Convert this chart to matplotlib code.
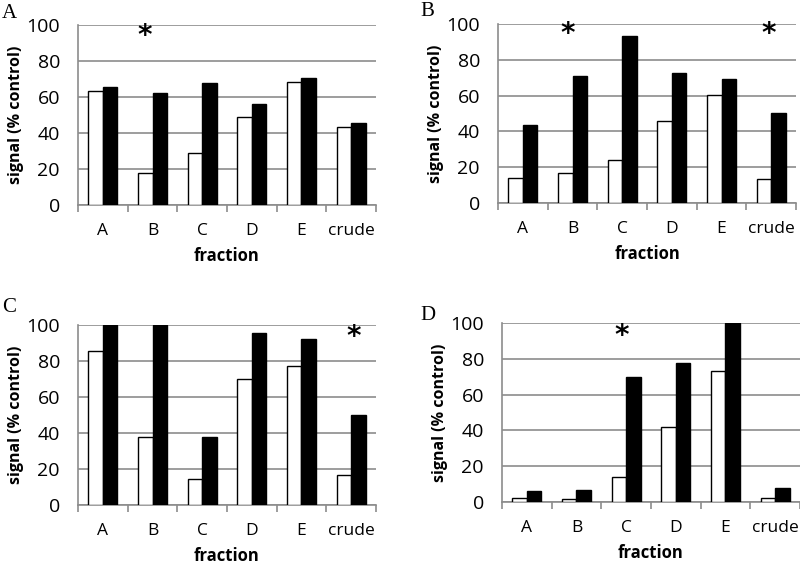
import matplotlib.pyplot as plt
import numpy as np

# data
fractions = ["A", "B", "C", "D", "E", "crude"]

white_A = [63.5, 18, 29, 49, 68.5, 43.5]
black_A = [65.5, 62, 68, 56, 70.8, 45.3]

white_B = [14, 17, 23.8, 45.6, 60.5, 13.4]
black_B = [43.4, 71, 93.4, 72.5, 69.4, 50.4]

white_C = [85.7, 38, 14.3, 70, 77, 16.5]
black_C = [100, 100, 38, 95.6, 92.4, 50]

white_D = [2.5, 1.4, 14, 42, 73, 2.2]
black_D = [5.9, 6.7, 69.6, 77.5, 100, 7.9]

# asterisks: (fraction index, height)
stars_A = [(0.85, 94)]
stars_B = [(0.9, 94.5), (4.95, 94.5)]
stars_C = [(5.05, 93.5)]
stars_D = [(1.9, 92.5)]

panels = [
    ("A", white_A, black_A, stars_A, [78, 205, 298, 180], (2, 14)),
    ("B", white_B, black_B, stars_B, [498, 203, 298, 179], (420, 12)),
    ("C", white_C, black_C, stars_C, [78, 505, 298, 180], (2, 307)),
    ("D", white_D, black_D, stars_D, [502, 502, 298, 179], (420, 316)),
]

W, H = 800, 566
fig = plt.figure(figsize=(8, 5.66), dpi=100)
plt.rcParams['font.family'] = ['Open Sans', 'DejaVu Sans']

grey = "#8c8c8c"
x = np.arange(len(fractions))
bw = 0.29

for name, wv, bv, stars, (l, b, w, h), (lx, ly) in panels:
    ax = fig.add_axes([l / W, 1 - b / H, w / W, h / H])
    ax.bar(x - bw / 2, wv, bw, color="white", edgecolor="black", linewidth=1, zorder=3)
    ax.bar(x + bw / 2, bv, bw, color="black", edgecolor="black", linewidth=1, zorder=3)
    ax.set_ylim(0, 100)
    ax.set_xlim(-0.5, len(fractions) - 0.5)
    ax.set_yticks([0, 20, 40, 60, 80, 100])
    ax.yaxis.grid(True, color=grey, linewidth=1.2, zorder=0)
    ax.set_axisbelow(True)
    for s in ["top", "right"]:
        ax.spines[s].set_visible(False)
    ax.spines["left"].set_color(grey)
    ax.spines["bottom"].set_color(grey)
    ax.spines["left"].set_linewidth(1.2)
    ax.spines["bottom"].set_linewidth(1.2)
    ax.tick_params(axis="y", length=0, pad=13, labelsize=14)
    ax.set_xticks(x)
    ax.set_xticklabels(fractions)
    ax.tick_params(axis="x", which="major", length=0, pad=13, labelsize=12.5)
    ax.set_xticks(np.arange(-0.5, len(fractions)), minor=True)
    ax.tick_params(axis="x", which="minor", length=5, width=1.2, color=grey, direction="out")
    ax.set_ylabel("signal (% control)", fontsize=11.5, fontweight="bold", labelpad=2)
    ax.set_xlabel("fraction", fontsize=12, fontweight="bold", labelpad=6)
    for sx, sy in stars:
        ax.text(sx, sy, "*", fontsize=20, fontweight="bold", ha="center", va="center",
                family="DejaVu Sans")
    fig.text(lx / W, 1 - ly / H, name, fontsize=15, family="Liberation Serif",
             ha="left", va="center")

fig.savefig("out.png", dpi=100)
